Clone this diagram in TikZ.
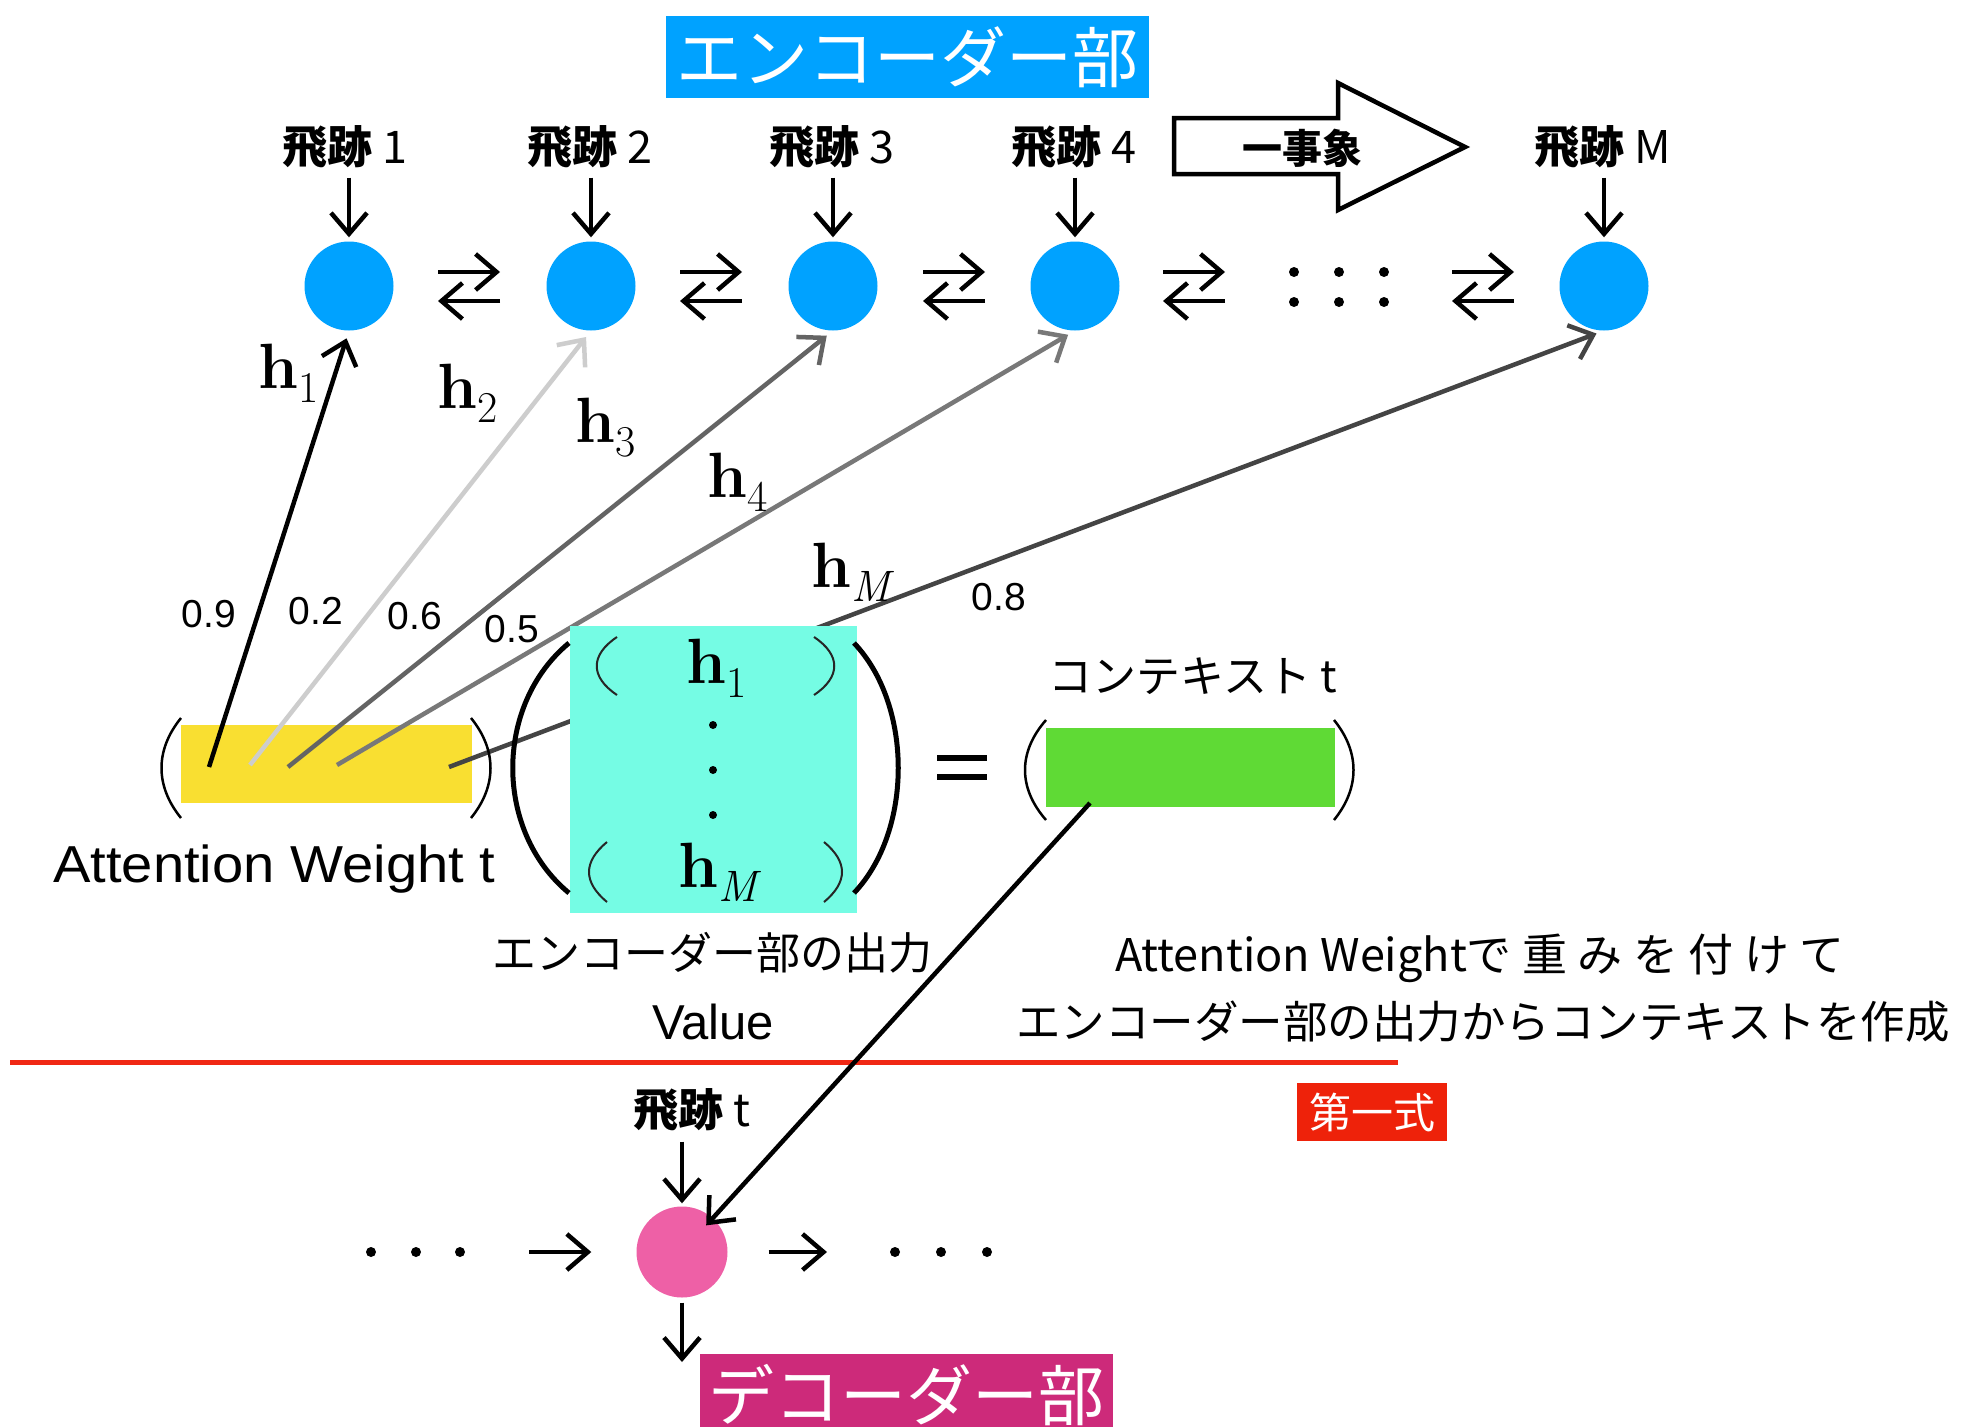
\documentclass[tikz,border=0pt]{standalone}
\usepackage{fontspec}
\setmainfont{Liberation Sans}
\newfontfamily\cjk{Noto Sans CJK JP}
\newfontfamily\lmr{Latin Modern Roman}
\usepackage{graphicx}
\usetikzlibrary{arrows.meta,calc}
\definecolor{encblue}{RGB}{0,162,255}
\definecolor{wyellow}{RGB}{249,223,49}
\definecolor{valteal}{RGB}{117,252,228}
\definecolor{ctxgreen}{RGB}{95,218,53}
\definecolor{decpink}{RGB}{238,96,166}
\definecolor{decmag}{RGB}{205,42,122}
\definecolor{redline}{RGB}{240,40,20}
\definecolor{redbox}{RGB}{238,34,10}
\definecolor{gA}{RGB}{205,205,205}
\definecolor{gB}{RGB}{100,100,100}
\definecolor{gC}{RGB}{120,120,120}
\definecolor{gD}{RGB}{68,68,68}
\newcommand\jgap{\hspace{10.5pt}}
\newcommand\hvec[1]{{\lmr\bfseries h}\raisebox{-14pt}{\lmr\fontsize{44}{46}\selectfont #1}}
\newcommand\hiseki{{\bfseries 飛跡}}
\tikzset{
  arr/.style={line width=4.5pt, -{Straight Barb[length=21pt,width=36pt]}},
  harr/.style={arr, shorten >=8pt},
  encnode/.style={circle, fill=encblue, minimum size=89pt, inner sep=0pt},
  jlab/.style={font=\cjk\fontsize{45}{50}\selectfont, inner sep=0pt},
  jtext/.style={font=\cjk\fontsize{44}{50}\selectfont, inner sep=0pt},
  hlab/.style={font=\fontsize{64}{70}\selectfont, inner sep=0pt, anchor=base west},
  wlab/.style={font=\fontsize{39}{42}\selectfont, inner sep=0pt},
  sparen/.style={line width=2.5pt},
  bparen/.style={line width=5pt},
  iparen/.style={line width=2pt, black!85},
  titlebox/.style={text=white, inner sep=0pt, minimum width=483pt, minimum height=82pt,
    font=\cjk\fontsize{66}{72}\selectfont},
}
\begin{document}
\begin{tikzpicture}[x=1pt,y=-1pt]
\useasboundingbox (0,0) rectangle (1963,1427);
\fill[white] (0,0) rectangle (1963,1427);

% encoder title
\node[titlebox, fill=encblue] (enc) at (907.5,57) {エンコーダー部};

% encoder nodes
\node[encnode] (e1) at (349,286) {};
\node[encnode] (e2) at (591,286) {};
\node[encnode] (e3) at (833,286) {};
\node[encnode] (e4) at (1075,286) {};
\node[encnode] (eM) at (1604,286) {};

\node[jlab] (t1) at (345,147) {\hiseki{} 1};
\node[jlab] (t2) at (590,147) {\hiseki{} 2};
\node[jlab] (t3) at (832,147) {\hiseki{} 3};
\node[jlab] (t4) at (1074,147) {\hiseki{} 4};
\node[jlab] (tM) at (1603,147) {\hiseki{} M};

\foreach \n in {1,2,3,4,M}{
  \draw[arr, shorten <=9pt, shorten >=4pt] (t\n.south -| e\n.north) -- (e\n.north);
}

% bidirectional arrows between encoder nodes
\foreach \cx in {469,711,954,1194,1483}{
  \draw[arr] (\cx-31,272) -- (\cx+31,272);
  \draw[arr] (\cx+31,301) -- (\cx-31,301);
}
\foreach \cx in {1294,1339,1384}{
  \fill (\cx,272) circle (5pt);
  \fill (\cx,302) circle (5pt);
}

% one-event outline arrow
\draw[line width=4.5pt, line join=miter] (1174,118) -- (1338,118) -- (1338,83) -- (1465,147)
  -- (1338,210) -- (1338,174) -- (1174,174) -- cycle;
\node[font=\cjk\bfseries\fontsize{40}{44}\selectfont, inner sep=0pt] (ev) at (1302,148) {一事象};

% attention weight vector
\node[fill=wyellow, minimum width=291pt, minimum height=78pt, inner sep=0pt] (aw) at (326.5,764) {};
\coordinate (w1) at (209,767);
\coordinate (w2) at (250,765);
\coordinate (w3) at (288,767);
\coordinate (w4) at (337,765);
\coordinate (wM) at (449,767);

\draw[harr, draw=black] (w1) -- (e1.south);
\draw[harr, draw=gA] (w2) -- (e2.south);
\draw[harr, draw=gB] (w3) -- (e3.south);
\draw[harr, draw=gC] (w4) -- (e4.south);
\draw[harr, draw=gD] (wM) -- (eM.south);

% value matrix
\node[fill=valteal, minimum width=287pt, minimum height=287pt, inner sep=0pt] (val) at (713.5,769.5) {};
\node[hlab] (v1) at (686,683) {\hvec{1}};
\node[hlab] (vM) at (678,887) {\hvec{\itshape M}};
\foreach \yy in {725,770,815}{ \fill (713,\yy) circle (4pt); }
\draw[iparen] (617,637) .. controls (590,655) and (590,677) .. (617,695);
\draw[iparen] (814,637) .. controls (841,655) and (841,677) .. (814,695);
\draw[iparen] (607,842) .. controls (583,862) and (583,882) .. (607,902);
\draw[iparen] (824,842) .. controls (848,862) and (848,882) .. (824,902);

% parentheses
\draw[sparen] (181,718) .. controls (155,750) and (155,786) .. (181,818);
\draw[sparen] (471,718) .. controls (497,750) and (497,786) .. (471,818);
\draw[bparen] (569,643) .. controls (494,705) and (494,831) .. (569,893);
\draw[bparen] (854,643) .. controls (913,705) and (913,831) .. (854,893);

% equals and context
\draw[line width=6.5pt] (937,758) -- (987,758);
\draw[line width=6.5pt] (937,777) -- (987,777);
\node[fill=ctxgreen, minimum width=289pt, minimum height=79pt, inner sep=0pt] (ctx) at (1190.5,767.5) {};
\draw[sparen] (1046,720) .. controls (1018,752) and (1018,788) .. (1046,820);
\draw[sparen] (1334,720) .. controls (1360,752) and (1360,788) .. (1334,820);

% h labels
\node[hlab] (h1) at (258,388) {\hvec{1}};
\node[hlab] (h2) at (437,408) {\hvec{2}};
\node[hlab] (h3) at (575,442) {\hvec{3}};
\node[hlab] (h4) at (707,497) {\hvec{4}};
\node[hlab] (hM) at (811,587) {\hvec{\itshape M}};

% weights
\node[wlab] (n1) at (209,614) {0.9};
\node[wlab] (n2) at (316,611) {0.2};
\node[wlab] (n3) at (415,616) {0.6};
\node[wlab] (n4) at (512,629) {0.5};
\node[wlab] (n5) at (999,597) {0.8};

% texts
\node[font=\fontsize{52}{56}\selectfont, inner sep=0pt, anchor=base west] (awl) at (53,882)
  {\scalebox{1.08}[1]{Attention Weight t}};
\node[jtext] (vall) at (712,953) {エンコーダー部の出力};
\node[font=\fontsize{49}{54}\selectfont, inner sep=0pt, anchor=base] (valv) at (713,1039) {Value};
\node[jtext] (ctxl) at (1193,676) {コンテキスト t};
\node[font=\cjk\fontsize{45}{50}\selectfont, inner sep=0pt] (ex1) at (1480,958)
  {Attention Weightで\jgap 重\jgap み\jgap を\jgap 付\jgap け\jgap て};
\node[font=\cjk\fontsize{44.5}{50}\selectfont, inner sep=0pt] (ex2) at (1483,1022)
  {エンコーダー部の出力からコンテキストを作成};

% separator and label
\coordinate (rl1) at (10,1062);
\coordinate (rl2) at (1398,1062);
\draw[line width=5pt, redline] (rl1) -- (rl2);
\node[fill=redbox, text=white, minimum width=150pt, minimum height=58pt, inner sep=0pt,
  font=\cjk\fontsize{42}{46}\selectfont] (eq1) at (1372,1112) {第一式};

% decoder
\node[circle, fill=decpink, minimum size=91pt, inner sep=0pt] (dec) at (682,1252) {};
\node[jlab] (tt) at (692,1110) {\hiseki{} t};
\draw[arr, shorten <=10pt, shorten >=3pt] (tt.south -| dec.north) -- (dec.north);
\foreach \cx in {371,416,460,895,941,987}{ \fill (\cx,1252) circle (5pt); }
\coordinate (dl) at (529,1252);
\coordinate (dr) at (827,1252);
\draw[arr, shorten >=45pt] (dl) -- (dec.west);
\draw[arr, shorten <=41pt] (dec.east) -- (dr);
\coordinate (dd) at (682,1362);
\draw[arr, shorten <=5pt] (dec.south) -- (dd);
\node[titlebox, fill=decmag, minimum width=413pt] (decbox) at (906.5,1395) {デコーダー部};

% context to decoder
\coordinate (cs) at (1090,803);
\draw[arr, shorten >=36pt] (cs) -- (dec.center);
\end{tikzpicture}
\end{document}
